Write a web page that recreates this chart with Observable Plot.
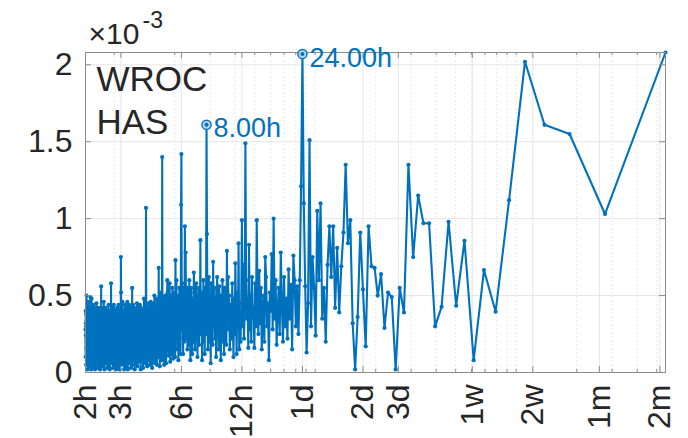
<!DOCTYPE html>
<html>
<head>
<meta charset="utf-8">
<script src="https://cdn.jsdelivr.net/npm/d3@7"></script>
<script src="https://cdn.jsdelivr.net/npm/@observablehq/plot@0.6"></script>
<style>
  html, body { margin: 0; padding: 0; background: #fff; }
  #chart svg { display: block; }
</style>
</head>
<body>
<div id="chart"></div>
<script>
// Periodogram of an hourly record of 1536 h: the k-th value belongs to period RECORD_HOURS / k.
const RECORD_HOURS = 1536;

// Power (×10^-3), k = 1 … 768
const power = [
  2.08, 1.03, 1.55, 1.61, 2.02, 1.12, 0.395, 0.666, 0.08, 0.856, 0.434, 0.98, 0.427, 0.30, 0.97, 0.97,
  1.15, 0.75, 1.35, 0.39, 0.55, 0.02, 0.49, 0.52, 0.29, 0.64, 0.50, 0.68, 0.69, 0.95, 0.17, 0.54,
  0.91, 0.36, 0.02, 0.32, 0.99, 0.84, 1.35, 0.91, 0.69, 0.39, 0.81, 0.42, 0.95, 0.62, 0.95, 0.70,
  0.20, 0.55, 0.35, 1.10, 0.60, 1.05, 0.24, 0.55, 0.75, 0.30, 1.51, 0.45, 0.13, 0.56, 1.10, 2.07,
  1.21, 0.60, 0.25, 0.56, 0.30, 0.60, 0.76, 0.15, 0.57, 0.35, 0.67, 0.22, 0.48, 0.30, 0.62, 0.20,
  0.45, 0.78, 0.25, 0.55, 0.40, 0.18, 0.60, 0.35, 1.00, 0.28, 0.77, 0.40, 0.52, 0.08, 0.45, 0.30,
  0.62, 0.75, 0.20, 0.50, 0.38, 0.15, 0.55, 0.32, 0.66, 0.25, 0.45, 0.99, 0.30, 0.58, 0.16, 0.42,
  0.36, 0.62, 0.20, 0.50, 0.28, 0.83, 0.16, 0.48, 0.35, 0.60, 1.49, 0.40, 0.22, 0.70, 0.30, 0.99,
  0.45, 0.20, 0.38, 0.15, 0.84, 0.30, 0.52, 0.12, 0.40, 0.71, 0.25, 0.48, 0.10, 0.35, 0.58, 0.22,
  0.44, 0.30, 0.15, 0.50, 0.28, 0.62, 0.35, 0.79, 0.18, 0.40, 0.26, 0.55, 0.12, 0.45, 0.32, 0.60,
  0.20, 0.38, 0.08, 0.50, 0.30, 0.56, 0.15, 0.42, 0.25, 0.62, 0.35, 0.10, 0.48, 0.22, 0.55, 0.30,
  0.40, 0.72, 0.18, 0.45, 0.28, 0.58, 0.06, 0.38, 0.50, 0.20, 0.62, 0.33, 0.15, 0.45, 0.90, 1.61,
  0.40, 0.25, 0.55, 0.12, 0.48, 0.30, 0.60, 0.20, 0.42, 0.08, 0.52, 0.35, 0.25, 0.86, 0.30, 0.46,
  0.18, 0.55, 0.28, 0.40, 0.10, 0.50, 0.32, 0.58, 0.22, 0.44, 0.15, 0.38, 0.52, 0.65, 0.20, 0.35,
  0.48, 0.12, 0.40, 0.26, 0.55, 0.30, 0.08, 0.45, 0.35, 0.60, 0.18, 0.42, 0.28, 0.52, 0.15, 0.55,
  0.40, 0.22, 0.50, 0.78, 0.30, 0.95, 0.45, 0.20, 0.55, 0.35, 0.12, 0.48, 0.28, 0.58, 0.40, 1.42,
  1.09, 0.30, 0.12, 0.45, 0.22, 0.55, 0.18, 0.38, 0.08, 0.50, 0.28, 0.15, 0.46, 0.25, 0.60, 0.20,
  0.35, 0.73, 0.10, 0.42, 0.28, 0.52, 0.14, 0.36, 0.48, 0.09, 0.30, 0.55, 0.22, 0.40, 0.12, 0.50,
  0.26, 0.44, 0.07, 0.35, 0.58, 0.18, 0.30, 0.46, 0.11, 0.40, 0.24, 0.52, 0.60, 0.15, 0.34, 0.45,
  0.06, 0.38, 0.22, 0.50, 0.12, 0.30, 0.44, 0.05, 0.36, 0.25, 0.48, 0.10, 0.33, 0.20, 1.40, 0.28,
  0.40, 0.08, 0.35, 0.52, 0.15, 0.30, 0.42, 0.04, 0.27, 0.46, 0.18, 0.68, 0.22, 0.38, 0.10, 0.45,
  0.25, 0.34, 0.05, 0.48, 0.20, 0.36, 0.12, 0.42, 0.28, 0.06, 0.40, 0.22, 0.50, 0.14, 0.32, 0.45,
  0.08, 0.30, 0.38, 0.16, 0.44, 0.03, 0.26, 0.40, 0.20, 0.35, 0.10, 0.46, 0.24, 0.32, 0.05, 0.42,
  0.18, 0.36, 0.28, 0.08, 0.45, 0.22, 0.34, 0.12, 0.40, 0.26, 0.04, 0.38, 0.30, 0.15, 0.42, 1.07,
  0.20, 0.35, 0.06, 0.30, 0.40, 0.14, 0.28, 0.36, 0.48, 0.10, 0.32, 0.22, 0.03, 0.38, 0.25, 0.16,
  0.34, 0.08, 0.40, 0.22, 0.30, 0.12, 0.42, 0.02, 0.28, 0.36, 0.18, 0.44, 0.26, 0.07, 0.33, 0.20,
  0.38, 0.10, 0.30, 0.42, 0.15, 0.25, 0.04, 0.36, 0.28, 0.45, 0.12, 0.32, 0.20, 0.38, 0.06, 0.30,
  0.24, 0.40, 0.14, 0.34, 0.02, 0.28, 0.42, 0.18, 0.30, 0.08, 0.36, 0.22, 0.44, 0.12, 0.26, 0.34,
  0.05, 0.55, 0.20, 0.32, 0.10, 0.38, 0.26, 0.03, 0.40, 0.16, 0.30, 0.22, 0.42, 0.08, 0.34, 0.18,
  0.28, 0.44, 0.06, 0.36, 0.24, 0.12, 0.40, 0.30, 0.02, 0.34, 0.20, 0.46, 0.14, 0.28, 0.38, 0.09,
  0.32, 0.22, 0.42, 0.04, 0.30, 0.36, 0.15, 0.26, 0.44, 0.10, 0.34, 0.20, 0.02, 0.38, 0.28, 0.12,
  0.40, 0.24, 0.32, 0.06, 0.36, 0.18, 0.46, 0.28, 0.10, 0.34, 0.22, 0.40, 0.05, 0.30, 0.52, 0.75,
  0.20, 0.34, 0.08, 0.28, 0.40, 0.14, 0.30, 0.02, 0.36, 0.24, 0.12, 0.38, 0.26, 0.44, 0.06, 0.32,
  0.18, 0.28, 0.36, 0.04, 0.30, 0.22, 0.42, 0.10, 0.26, 0.34, 0.15, 0.38, 0.02, 0.28, 0.20, 0.35,
  0.08, 0.32, 0.24, 0.40, 0.12, 0.28, 0.36, 0.05, 0.30, 0.18, 0.44, 0.22, 0.34, 0.10, 0.26, 0.38,
  0.03, 0.30, 0.20, 0.36, 0.14, 0.42, 0.24, 0.08, 0.32, 0.26, 0.38, 0.16, 0.58, 0.28, 0.06, 0.34,
  0.22, 0.30, 0.12, 0.40, 0.02, 0.28, 0.35, 0.18, 0.32, 0.24, 0.10, 0.38, 0.26, 0.44, 0.05, 0.30,
  0.20, 0.34, 0.14, 0.28, 0.36, 0.03, 0.32, 0.22, 0.40, 0.12, 0.26, 0.30, 0.08, 0.36, 0.18, 0.33,
  0.25, 0.42, 0.06, 0.30, 0.20, 0.36, 0.10, 0.28, 0.34, 0.02, 0.38, 0.24, 0.15, 0.32, 0.46, 0.20,
  0.30, 0.08, 0.36, 0.26, 0.12, 0.40, 0.22, 0.04, 0.34, 0.28, 0.18, 0.38, 0.10, 0.30, 0.24, 0.42,
  0.14, 0.56, 0.20, 0.32, 0.06, 0.28, 0.36, 0.16, 0.30, 0.02, 0.38, 0.22, 0.34, 0.10, 0.26, 0.40,
  0.05, 0.32, 0.24, 0.36, 0.14, 0.28, 0.42, 0.08, 0.30, 0.20, 0.35, 0.12, 0.38, 0.26, 0.03, 0.33,
  0.22, 0.30, 0.16, 0.40, 0.28, 0.45, 0.10, 0.34, 0.24, 0.06, 0.36, 0.20, 0.30, 0.14, 0.38, 0.26,
  0.02, 0.32, 0.22, 0.42, 0.12, 0.28, 0.36, 0.08, 0.30, 0.18, 0.40, 0.25, 0.04, 0.34, 0.20, 0.44,
  0.14, 0.30, 0.26, 0.36, 0.06, 0.32, 0.22, 0.40, 0.10, 0.28, 0.35, 0.16, 0.48, 0.24, 0.02, 0.30,
  0.20, 0.38, 0.12, 0.32, 0.26, 0.49, 0.08, 0.34, 0.22, 0.30, 0.14, 0.42, 0.04, 0.28, 0.36, 0.18,
  0.32, 0.10, 0.40, 0.24, 0.30, 0.06, 0.36, 0.20, 0.46, 0.14, 0.28, 0.34, 0.02, 0.38, 0.22, 0.30,
  0.12, 0.44, 0.26, 0.08, 0.34, 0.20, 0.50, 0.16, 0.30, 0.38, 0.05, 0.32, 0.24, 0.40, 0.10, 0.28
];

// Axis ticks (periods in hours) and their labels
const xTickValues = [2, 3, 6, 12, 24, 48, 72, 168, 336, 720, 1440];
const xTickLabels = ["2h", "3h", "6h", "12h", "1d", "2d", "3d", "1w", "2w", "1m", "2m"];
const yTickValues = [0, 0.5, 1, 1.5, 2];
const yTickLabels = ["0", "0.5", "1", "1.5", "2"];

// Annotated peaks
const peakPeriods = [24, 8];
const peakLabels = ["24.00h", "8.00h"];

// Texts
const stationLabel = "WROC\nHAS";
const exponentBase = "×10";
const exponentPower = "-3";

// ---------- build ----------
const data = power.map((p, i) => ({period: RECORD_HOURS / (i + 1), power: p}));
const peaks = peakPeriods.map((p, i) => {
  const d = data.find(e => Math.abs(e.period - p) < 1e-9);
  return {period: d.period, power: d.power, label: peakLabels[i]};
});
const xTicks = xTickValues.map((v, i) => ({v, t: xTickLabels[i]}));
const yTicks = yTickValues.map((v, i) => ({v, t: yTickLabels[i]}));

// minor log grid (1..9 × 10^n seconds)
const minor = [];
for (const e of [4, 5, 6]) for (let n = 1; n <= 9; n++) {
  const h = n * Math.pow(10, e) / 3600;
  if (h > 2 && h < RECORD_HOURS) minor.push(h);
}

const W = 688, H = 438, mL = 85, mR = 23, mT = 52, mB = 66;
const plotW = W - mL - mR, plotH = H - mT - mB;
const blue = "#0072BD", ink = "#262626", axisGray = "#8c8c8c";
const font = "'Liberation Sans', Arial, Helvetica, sans-serif";

const chart = Plot.plot({
  width: W, height: H,
  marginLeft: mL, marginRight: mR, marginTop: mT, marginBottom: mB,
  x: {type: "log", domain: [2, RECORD_HOURS], axis: null},
  y: {domain: [0, d3.max(power)], axis: null},
  style: {fontFamily: font, background: "#fff", overflow: "visible"},
  marks: [
    Plot.ruleX(minor, {stroke: "#e2e2e2", strokeDasharray: "1.5,2.5", strokeWidth: 1}),
    Plot.ruleX(xTickValues, {stroke: "#e6e6e6", strokeWidth: 1}),
    Plot.ruleY(yTickValues.slice(1), {stroke: "#e6e6e6", strokeWidth: 1}),
    Plot.line(data, {x: "period", y: "power", stroke: blue, strokeWidth: 2.1}),
    Plot.dot(data, {x: "period", y: "power", r: 2.1, fill: blue, stroke: "none"}),
    Plot.frame({stroke: axisGray, strokeWidth: 1}),
    // inward tick marks on all four sides
    Plot.ruleX(xTickValues, {insetTop: plotH - 6, stroke: axisGray}),
    Plot.ruleX(xTickValues, {insetBottom: plotH - 6, stroke: axisGray}),
    Plot.ruleX(minor, {insetTop: plotH - 3, stroke: axisGray}),
    Plot.ruleX(minor, {insetBottom: plotH - 3, stroke: axisGray}),
    Plot.ruleY(yTickValues, {insetRight: plotW - 6, stroke: axisGray}),
    Plot.ruleY(yTickValues, {insetLeft: plotW - 6, stroke: axisGray}),
    // peak markers
    Plot.dot(peaks, {x: "period", y: "power", r: 4.6, fill: "#bcd5ec", stroke: blue, strokeWidth: 1.4}),
    Plot.dot(peaks, {x: "period", y: "power", r: 2, fill: blue}),
    Plot.text(peaks, {x: "period", y: "power", text: "label", textAnchor: "start", lineAnchor: "middle",
      dx: 7, dy: 4, fontSize: 27, fill: blue}),
    // tick labels
    Plot.text(xTicks, {x: "v", text: "t", frameAnchor: "bottom", rotate: -90, textAnchor: "end",
      lineAnchor: "middle", dy: 12, fontSize: 32, fill: ink}),
    Plot.text(yTicks, {y: "v", text: "t", frameAnchor: "left", textAnchor: "end",
      lineAnchor: "middle", dx: -13, fontSize: 32, fill: ink}),
    // station label
    Plot.text([stationLabel], {text: d => d, frameAnchor: "top-left", textAnchor: "start", lineAnchor: "top",
      dx: 11, dy: 8, fontSize: 35, lineHeight: 1.23, fill: ink}),
    // exponent
    Plot.text([exponentBase], {text: d => d, frameAnchor: "top-left", textAnchor: "start", lineAnchor: "top",
      dx: 3, dy: -30, fontSize: 30, fill: ink}),
    Plot.text([exponentPower], {text: d => d, frameAnchor: "top-left", textAnchor: "start", lineAnchor: "top",
      dx: 57, dy: -41, fontSize: 23, fill: ink})
  ]
});
document.getElementById("chart").appendChild(chart);
</script>
</body>
</html>
